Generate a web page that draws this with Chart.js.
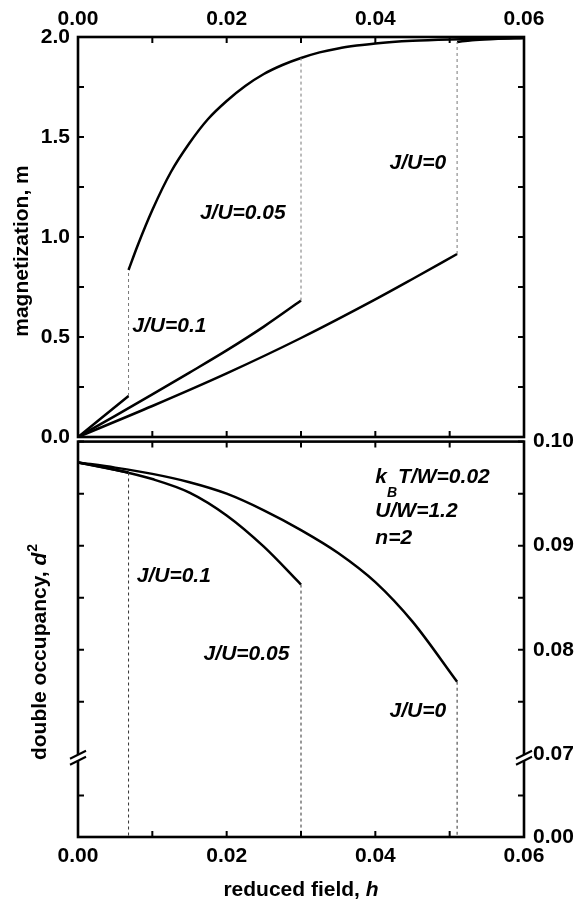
<!DOCTYPE html>
<html>
<head>
<meta charset="utf-8">
<script src="https://cdn.jsdelivr.net/npm/chart.js@4.4.0/dist/chart.umd.min.js"></script>
<style>
  html, body { margin: 0; padding: 0; background: #fff; }
  #wrap { position: relative; width: 579px; height: 911px; overflow: hidden; }
  #wrap canvas { position: absolute; left: 0; }
  #magChart { top: 0; }
  #occChart { top: 420px; }
</style>
</head>
<body>
<div id="wrap">
  <canvas id="magChart" width="579" height="460"></canvas>
  <canvas id="occChart" width="579" height="491"></canvas>
</div>
<script>
// Axis ticks
const hTicks = [0.00, 0.01, 0.02, 0.03, 0.04, 0.05, 0.06];
const mTicks = [0, 0.25, 0.5, 0.75, 1.0, 1.25, 1.5, 1.75, 2.0];
const dTickValues = [0.062, 0.066, 0.070, 0.075, 0.080, 0.085, 0.090, 0.095, 0.100];
const dTickLabels = ['0.00', '', '0.07', '', '0.08', '', '0.09', '', '0.10'];
const dFloor = 0.062;   // bottom of the broken axis, labelled 0.00
const dBreak = 0.070;

// Magnetization: saturated branch
const hUpper = [0.0068, 0.0080, 0.0100, 0.0125, 0.0150, 0.0175, 0.0200, 0.0225, 0.0250, 0.0275, 0.0300, 0.0325, 0.0350, 0.0375, 0.0400, 0.0450, 0.0500, 0.0550, 0.0600];
const mUpper = [0.835, 0.955, 1.135, 1.325, 1.470, 1.590, 1.680, 1.755, 1.815, 1.860, 1.895, 1.923, 1.943, 1.957, 1.968, 1.981, 1.988, 1.992, 1.995];
// J/U=0 upper branch just after its jump
const hUpperJ0 = [0.0510, 0.0530, 0.0560, 0.0600];
const mUpperJ0 = [1.975, 1.984, 1.990, 1.995];

// Magnetization: low-field branches
const hLow01 = [0, 0.0068];
const mLow01 = [0, 0.205];
const hLow005 = [0, 0.005, 0.010, 0.015, 0.020, 0.025, 0.030];
const mLow005 = [0, 0.106, 0.213, 0.322, 0.433, 0.552, 0.682];
const hLow0 = [0, 0.010, 0.020, 0.030, 0.040, 0.045, 0.051];
const mLow0 = [0, 0.155, 0.318, 0.495, 0.688, 0.790, 0.915];

// Jumps (J/U = 0.1, 0.05, 0)
const hJump = [0.0068, 0.0300, 0.0510];
const mJumpLow = [0.205, 0.682, 0.915];
const mJumpHigh = [0.835, 1.895, 1.975];

// Double occupancy
const hOcc01 = [0, 0.0068];
const dOcc01 = [0.0980, 0.09703];
const hOcc005 = [0, 0.005, 0.010, 0.015, 0.020, 0.025, 0.030];
const dOcc005 = [0.0980, 0.0973, 0.0964, 0.0951, 0.0929, 0.0899, 0.08626];
const hOcc0 = [0, 0.005, 0.010, 0.015, 0.020, 0.025, 0.030, 0.035, 0.040, 0.045, 0.051];
const dOcc0 = [0.0980, 0.0975, 0.0969, 0.0961, 0.0950, 0.0934, 0.0915, 0.0893, 0.0865, 0.0827, 0.07692];
const dJumpTop = [0.09703, 0.08626, 0.07692];

const FONT = "'Liberation Sans', Arial, Helvetica, sans-serif";
const BOLD = 'bold 21px ' + FONT;
const ITALIC = 'italic bold 21px ' + FONT;
const TICK = 6;

Chart.defaults.font.family = FONT;
Chart.defaults.font.size = 21;
Chart.defaults.font.weight = 'bold';
Chart.defaults.color = '#000';

const xy = (xs, ys) => xs.map((x, i) => ({ x: x, y: ys[i] }));

function curve(xs, ys, yAxisID) {
    return {
        data: xy(xs, ys),
        yAxisID: yAxisID,
        xAxisID: 'x',
        borderColor: '#000',
        borderWidth: 2.5,
        pointRadius: 0,
        fill: false,
        cubicInterpolationMode: 'monotone'
    };
}

function dashed(x, y0, y1, yAxisID, color) {
    return {
        data: [{ x: x, y: y0 }, { x: x, y: y1 }],
        yAxisID: yAxisID,
        xAxisID: 'x',
        borderColor: color,
        borderWidth: 1,
        borderDash: [3, 3],
        pointRadius: 0,
        fill: false
    };
}

// draw text made of several runs (font changes, super/subscripts)
function drawRuns(ctx, runs, x, y, align) {
    let total = 0;
    runs.forEach(r => { ctx.font = r.font; total += ctx.measureText(r.t).width + (r.dx || 0) + (r.adv || 0); });
    let cx = align === 'center' ? x - total / 2 : x;
    ctx.textAlign = 'left';
    ctx.textBaseline = 'alphabetic';
    runs.forEach(r => {
        ctx.font = r.font;
        ctx.fillText(r.t, cx + (r.dx || 0), y + (r.dy || 0));
        cx += ctx.measureText(r.t).width + (r.dx || 0) + (r.adv || 0);
    });
}

function frame(chart, yScale, yTicks, skip) {
    const { ctx, chartArea: a } = chart;
    const xs = chart.scales.x;
    ctx.save();
    ctx.strokeStyle = '#000';
    ctx.lineWidth = 2;
    ctx.beginPath();
    hTicks.forEach(v => {
        const px = xs.getPixelForValue(v);
        ctx.moveTo(px, a.top); ctx.lineTo(px, a.top + TICK);
        ctx.moveTo(px, a.bottom); ctx.lineTo(px, a.bottom - TICK);
    });
    yTicks.forEach(v => {
        if (skip !== undefined && Math.abs(v - skip) < 1e-9) return;
        const py = yScale.getPixelForValue(v);
        ctx.moveTo(a.left, py); ctx.lineTo(a.left + TICK, py);
        ctx.moveTo(a.right, py); ctx.lineTo(a.right - TICK, py);
    });
    ctx.stroke();
    ctx.lineWidth = 2.6;
    ctx.strokeRect(a.left, a.top, a.right - a.left, a.bottom - a.top);
    ctx.restore();
}

function axisBreak(ctx, x, y) {
    ctx.save();
    ctx.fillStyle = '#fff';
    ctx.fillRect(x - 3, y - 3, 6, 6);
    ctx.strokeStyle = '#000';
    ctx.lineWidth = 2;
    ctx.beginPath();
    [-3, 3].forEach(o => {
        ctx.moveTo(x - 8, y + o + 4);
        ctx.lineTo(x + 8, y + o - 4);
    });
    ctx.stroke();
    ctx.restore();
}

const magNotes = [
    { text: 'J/U=0.05', h: 0.0164, v: 1.12 },
    { text: 'J/U=0.1', h: 0.0073, v: 0.553 },
    { text: 'J/U=0', h: 0.0419, v: 1.37 }
];
const occNotes = [
    { text: 'J/U=0.1', h: 0.0079, v: 0.0871 },
    { text: 'J/U=0.05', h: 0.0169, v: 0.0796 },
    { text: 'J/U=0', h: 0.0419, v: 0.0741 }
];

function drawNotes(chart, notes, yScale) {
    const ctx = chart.ctx;
    const xs = chart.scales.x;
    ctx.save();
    ctx.fillStyle = '#000';
    ctx.font = ITALIC;
    ctx.textAlign = 'left';
    ctx.textBaseline = 'middle';
    notes.forEach(n => ctx.fillText(n.text, xs.getPixelForValue(n.h), yScale.getPixelForValue(n.v)));
    ctx.restore();
}

const magPlugin = {
    id: 'magDecor',
    afterDraw(chart) {
        const ctx = chart.ctx;
        const ys = chart.scales.m;
        frame(chart, ys, mTicks);
        drawNotes(chart, magNotes, ys);
        ctx.save();
        ctx.fillStyle = '#000';
        ctx.translate(28, 251);
        ctx.rotate(-Math.PI / 2);
        drawRuns(ctx, [{ t: 'magnetization, m', font: BOLD }], 0, 0, 'center');
        ctx.restore();
    }
};

const occPlugin = {
    id: 'occDecor',
    afterDraw(chart) {
        const ctx = chart.ctx;
        const a = chart.chartArea;
        const ys = chart.scales.d;
        frame(chart, ys, dTickValues, dBreak);
        const yb = ys.getPixelForValue(dBreak) + 4;
        axisBreak(ctx, a.left, yb);
        axisBreak(ctx, a.right, yb);
        drawNotes(chart, occNotes, ys);

        // parameters
        const xs = chart.scales.x;
        const px = xs.getPixelForValue(0.0400);
        ctx.save();
        ctx.fillStyle = '#000';
        drawRuns(ctx, [
            { t: 'k', font: ITALIC },
            { t: 'B', font: 'italic bold 14px ' + FONT, dy: 14, adv: 1 },
            { t: 'T/W=0.02', font: ITALIC }
        ], px, ys.getPixelForValue(0.09602), 'left');
        drawRuns(ctx, [{ t: 'U/W=1.2', font: ITALIC }], px, ys.getPixelForValue(0.09279), 'left');
        drawRuns(ctx, [{ t: 'n=2', font: ITALIC }], px, ys.getPixelForValue(0.09014), 'left');

        // axis titles
        drawRuns(ctx, [
            { t: 'reduced field, ', font: BOLD },
            { t: 'h', font: ITALIC }
        ], (a.left + a.right) / 2, 476, 'center');
        ctx.translate(46, 232);
        ctx.rotate(-Math.PI / 2);
        drawRuns(ctx, [
            { t: 'double occupancy, ', font: BOLD },
            { t: 'd', font: ITALIC },
            { t: '2', font: 'bold 14px ' + FONT, dy: -9, dx: 1 }
        ], 0, 0, 'center');
        ctx.restore();
    }
};

const noAxis = { display: false, drawTicks: false };

// Top panel: magnetization
new Chart(document.getElementById('magChart'), {
    type: 'line',
    data: {
        datasets: [
            dashed(hJump[0], mJumpLow[0], mJumpHigh[0], 'm', '#777'),
            dashed(hJump[1], mJumpLow[1], mJumpHigh[1], 'm', '#777'),
            dashed(hJump[2], mJumpLow[2], mJumpHigh[2], 'm', '#777'),
            curve(hUpper, mUpper, 'm'),
            curve(hUpperJ0, mUpperJ0, 'm'),
            curve(hLow01, mLow01, 'm'),
            curve(hLow005, mLow005, 'm'),
            curve(hLow0, mLow0, 'm')
        ]
    },
    options: {
        responsive: false,
        animation: false,
        events: [],
        layout: { padding: { left: 0, right: 55, top: 0, bottom: 23 } },
        plugins: { legend: { display: false }, tooltip: { enabled: false } },
        scales: {
            x: { type: 'linear', min: 0, max: 0.06, display: false },
            xTop: {
                type: 'linear', position: 'top', min: 0, max: 0.06,
                grid: noAxis, border: { display: false },
                ticks: { stepSize: 0.02, padding: 5, callback: v => v.toFixed(2) },
                afterFit: s => { s.height = 37; }
            },
            m: {
                type: 'linear', position: 'left', min: 0, max: 2,
                grid: noAxis, border: { display: false },
                ticks: { stepSize: 0.5, padding: 8, callback: v => v.toFixed(1) },
                afterFit: s => { s.width = 78; }
            }
        }
    },
    plugins: [magPlugin]
});

// Bottom panel: double occupancy
new Chart(document.getElementById('occChart'), {
    type: 'line',
    data: {
        datasets: [
            dashed(hJump[0], dJumpTop[0], dFloor, 'd', '#333'),
            dashed(hJump[1], dJumpTop[1], dFloor, 'd', '#333'),
            dashed(hJump[2], dJumpTop[2], dFloor, 'd', '#333'),
            curve(hOcc01, dOcc01, 'd'),
            curve(hOcc005, dOcc005, 'd'),
            curve(hOcc0, dOcc0, 'd')
        ]
    },
    options: {
        responsive: false,
        animation: false,
        events: [],
        layout: { padding: { left: 78, right: 0, top: 17, bottom: 0 } },
        plugins: { legend: { display: false }, tooltip: { enabled: false } },
        scales: {
            x: {
                type: 'linear', position: 'bottom', min: 0, max: 0.06,
                grid: noAxis, border: { display: false },
                ticks: { stepSize: 0.02, padding: 7, callback: v => v.toFixed(2) },
                afterFit: s => { s.height = 74; }
            },
            d: {
                type: 'linear', position: 'right', min: dFloor, max: 0.10,
                grid: noAxis, border: { display: false },
                afterBuildTicks: s => { s.ticks = dTickValues.map(v => ({ value: v })); },
                ticks: { autoSkip: false, padding: 9, callback: (v, i) => dTickLabels[i] },
                afterFit: s => { s.width = 55; }
            }
        }
    },
    plugins: [occPlugin]
});
</script>
</body>
</html>
